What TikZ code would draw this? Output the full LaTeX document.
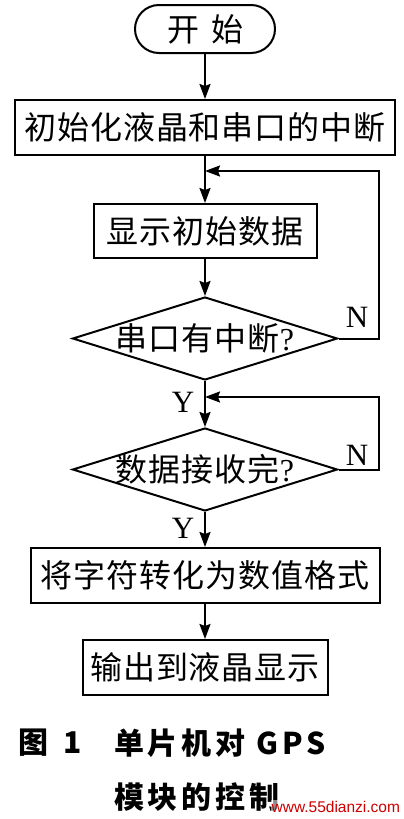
\documentclass[tikz,border=0pt]{standalone}
\usepackage{fontspec}
\setmainfont{Liberation Serif}
\newfontfamily\cjk[LetterSpace=3]{Noto Sans CJK SC}
\newfontfamily\capf[LetterSpace=13]{Noto Sans CJK SC}
\newfontfamily\wmf{Liberation Sans}
\usetikzlibrary{shapes.misc,shapes.geometric,arrows.meta}
\begin{document}
\begin{tikzpicture}[x=1pt,y=-1pt,
  line width=2pt,
  box/.style={draw, rectangle, inner sep=0pt, minimum height=55pt, font=\fontsize{32}{32}\cjk},
  dia/.style={draw, diamond, inner sep=0pt, minimum width=265pt, minimum height=83pt, font=\fontsize{32}{32}\cjk},
  arr/.style={-{Stealth[length=15pt,width=11pt,inset=2pt]}},
  yn/.style={font=\fontsize{31}{31}\selectfont, inner sep=0pt},
  capstyle/.style={anchor=west, inner sep=0pt, font=\fontsize{30}{30}\capf\bfseries}
]
\fill[white] (0,0) rectangle (404,819);
\useasboundingbox (0,0) rectangle (404,819);

\node[draw, rounded rectangle, minimum width=140pt, minimum height=48pt, inner sep=0pt,
      font=\fontsize{32}{32}\cjk] (start) at (205,29) {开\hspace{12pt}始};
\node[box, minimum width=380pt] (b1) at (205,127.5) {初始化液晶和串口的中断};
\node[box, minimum width=223pt, minimum height=54pt] (b2) at (205,231) {显示初始数据};
\node[dia] (d1) at (205,338.5) {\makebox[0pt]{串口有中断{\rmfamily ?}}};
\node[dia] (d2) at (205,469.5) {\makebox[0pt]{数据接收完{\rmfamily ?}}};
\node[box, minimum width=349pt] (b3) at (205,575.5) {将字符转化为数值格式};
\node[box, minimum width=245pt] (b4) at (205,667.5) {输出到液晶显示};

\coordinate (m1) at (205,171);
\coordinate (m2) at (205,397);
\coordinate (r) at (379,0);

\draw[arr] (start) -- (b1);
\draw[arr] (b1) -- (b2);
\draw[arr] (b2) -- (d1);
\draw[arr] (d1) -- (d2);
\draw[arr] (d2) -- (b3);
\draw[arr] (b3) -- (b4);
\draw[arr] (d1.east) -- (d1.east -| r) -- (m1 -| r) -- (m1);
\draw[arr] (d2.east) -- (d2.east -| r) -- (m2 -| r) -- (m2);

\node[yn] (n1) at (357,317) {N};
\node[yn] (n2) at (357,455) {N};
\node[yn] (y1) at (183,402) {Y};
\node[yn] (y2) at (183,528) {Y};

\node[capstyle] (cap1) at (17,743) {图};
\node[capstyle] (cap2) at (62,743) {1};
\node[capstyle] (cap3) at (113,743) {单片机对 GPS};
\node[capstyle] (cap4) at (113,797) {模块的控制};
\node[anchor=east, inner sep=1pt, fill=white, fill opacity=0.55, text opacity=1, text=red!80!black,
      font=\fontsize{15.5}{16}\wmf] (wm) at (402,807) {www.55dianzi.com};
\end{tikzpicture}
\end{document}
